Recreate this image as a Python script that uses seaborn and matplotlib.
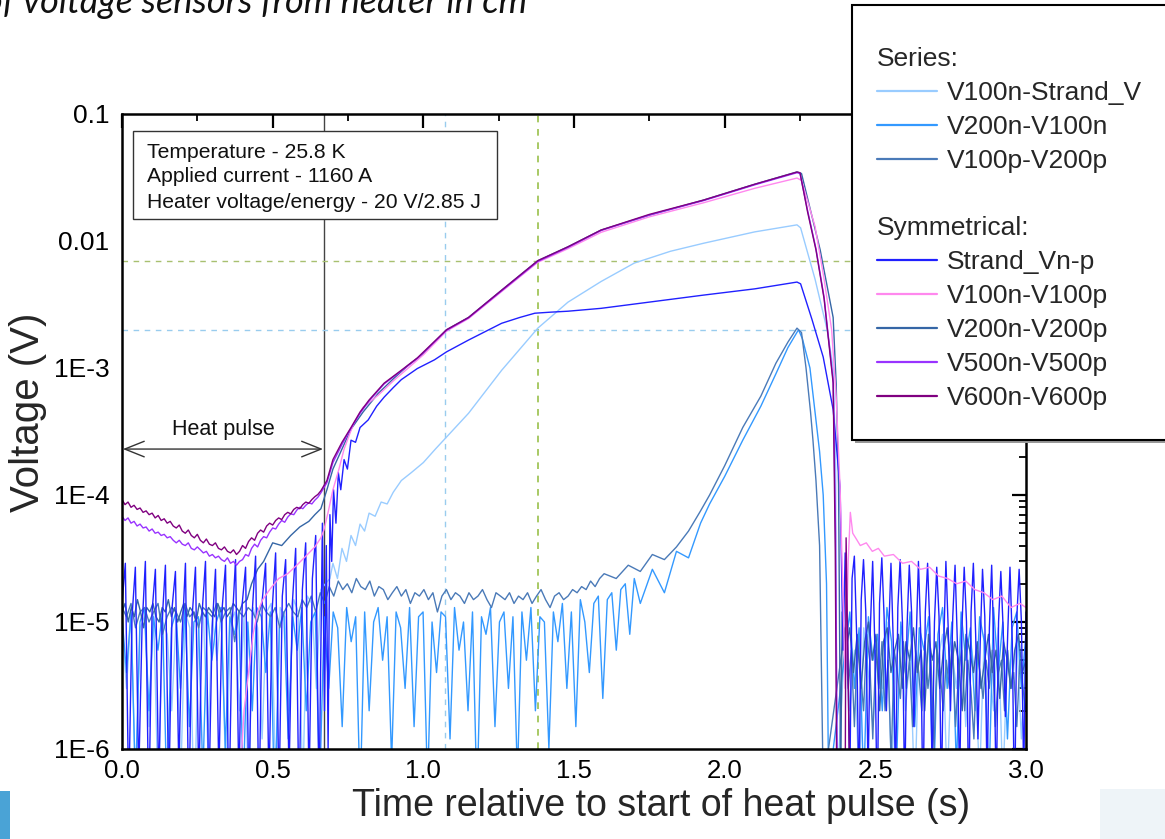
import numpy as np
import matplotlib
matplotlib.use("Agg")
import matplotlib.pyplot as plt
import seaborn as sns
from matplotlib.lines import Line2D
from matplotlib.patches import Rectangle
from matplotlib.ticker import LogLocator, NullFormatter, MultipleLocator

# ---------------- data ----------------
# Noise segments: (t_start, t_end, values in microvolts at evenly spaced samples)
strand_early = (0.0, 0.665, [14, 29, 0.4, 11, 27, 0.6, 9, 30, 0.3, 12, 26, 0.5, 10, 28, 0.4, 13, 25, 0.7, 8, 29,
                             0.3, 11, 27, 0.5, 12, 30, 0.4, 9, 26, 0.6, 13, 28, 0.3, 10, 31, 0.5, 14, 27, 0.4, 12,
                             33, 0.3, 15, 29, 0.5, 13, 35, 0.4, 16, 31, 0.6, 14, 38, 0.3, 18, 42, 0.5, 22, 48, 0.4, 60])
strand_t = [0.672, 0.678, 0.684, 0.690, 0.696, 0.702, 0.710, 0.718, 0.726, 0.737, 0.748, 0.760, 0.775, 0.790,
            0.817, 0.845, 0.870, 0.900, 0.927, 0.980, 1.037, 1.077, 1.150, 1.260, 1.320, 1.370, 1.420, 1.480,
            1.590, 1.750, 1.930, 2.100, 2.240, 2.252, 2.290, 2.327, 2.360, 2.383, 2.393]
strand_v = [2e-6, 4e-5, 1e-6, 7e-5, 3e-5, 1.1e-4, 6e-5, 1.5e-4, 1.1e-4, 1.9e-4, 1.6e-4, 2.7e-4, 2.6e-4, 3.4e-4,
            3.9e-4, 5.0e-4, 5.9e-4, 7.0e-4, 8.1e-4, 9.9e-4, 1.16e-3, 1.34e-3, 1.66e-3, 2.25e-3, 2.5e-3, 2.7e-3,
            2.75e-3, 2.8e-3, 2.95e-3, 3.3e-3, 3.75e-3, 4.2e-3, 4.75e-3, 4.6e-3, 2.4e-3, 1.22e-3, 4.7e-4, 1.15e-4, 6e-6]
strand_late = (2.40, 3.0, [35, 10, 0.5, 22, 33, 8, 0.4, 15, 31, 12, 0.6, 9, 30, 6, 0.3, 14, 32, 11, 2, 8,
                           29, 7, 0.5, 13, 31, 10, 0.4, 9, 28, 12, 1.5, 7, 30, 8, 0.3, 12, 29, 9, 0.6, 10,
                           27, 11, 0.4, 6, 30, 9, 2, 11, 28, 7, 0.5, 9, 27, 10, 0.3, 12, 29, 8, 1.2, 7,
                           26, 11, 0.5, 9, 28, 6, 0.4, 10, 25, 9, 1.8, 8, 27, 7, 0.3, 11, 26, 10, 0.6, 12])

dodger_early = (0.0, 1.70, [11, 4, 12, 0.5, 10, 13, 2, 11, 6, 12, 0.4, 9, 12, 3, 13, 1.5, 10, 11, 0.6, 12,
                            5, 10, 13, 1, 11, 8, 12, 0.5, 10, 2, 13, 11, 4, 12, 0.3, 9, 12, 1.2, 11, 6,
                            13, 2, 10, 12, 0.5, 11, 3, 12, 9, 1.5, 13, 7, 11, 0.4, 12, 2, 10, 13, 5, 11,
                            0.8, 12, 9, 3, 13, 1.5, 11, 12, 0.5, 10, 4, 12, 11, 1.2, 13, 6, 10, 2, 12, 0.4,
                            11, 8, 13, 1.5, 10, 12, 3, 11, 0.6, 12, 5, 13, 2, 11, 10, 1, 12, 7, 14, 3,
                            12, 1.5, 15, 10, 4, 14, 16, 2.5, 15, 17, 6, 18, 20, 8, 22])
dodger_t = [1.72, 1.76, 1.80, 1.84, 1.88, 1.92, 1.95, 2.00, 2.06, 2.12, 2.17, 2.21, 2.245, 2.258, 2.283,
            2.30, 2.315, 2.327, 2.338, 2.345]
dodger_v = [1.4e-5, 2.6e-5, 1.7e-5, 3.6e-5, 3.2e-5, 6e-5, 8.5e-5, 1.4e-4, 2.7e-4, 5.0e-4, 9.0e-4, 1.45e-3,
            2.0e-3, 1.7e-3, 1.0e-3, 4.5e-4, 2.2e-4, 1.0e-4, 2.0e-5, 5e-7]
dodger_late = (2.40, 3.0, [6, 12, 3, 9, 0.5, 11, 5, 8, 2, 13, 7, 0.6, 10, 4, 12, 1.5, 9, 6, 11, 0.4,
                           8, 13, 3, 10, 0.7, 12, 5, 9, 2, 11, 7, 0.5, 13, 4, 10, 1.2, 9, 12, 3, 8])

steel_early = (0.0, 1.60, [13, 11, 14, 9, 12, 13, 10, 12, 14, 8, 11, 13, 12, 10, 14, 11, 12, 9, 13, 12,
                           11, 14, 10, 12, 13, 7, 12, 11, 13, 12, 10, 14, 12, 11, 13, 9, 12, 14, 12, 11,
                           15, 13, 16, 12, 17, 14, 19, 16, 21, 18, 20, 17, 22, 19, 18, 21, 16, 19, 18, 15,
                           17, 19, 16, 18, 14, 17, 16, 18, 15, 17, 12, 16, 18, 15, 17, 16, 14, 17, 15, 16,
                           18, 15, 13, 17, 16, 15, 17, 14, 16, 15, 17, 14, 16, 18, 15, 13, 16, 17, 15, 16,
                           18, 17, 19, 18, 21, 19, 22, 24])
steel_t = [1.64, 1.68, 1.72, 1.76, 1.80, 1.84, 1.88, 1.92, 1.95, 2.00, 2.06, 2.12, 2.17, 2.21, 2.24, 2.255,
           2.27, 2.285, 2.293, 2.303, 2.315, 2.327]
steel_v = [2.2e-5, 2.8e-5, 2.5e-5, 3.4e-5, 3.1e-5, 3.9e-5, 5.2e-5, 7.5e-5, 1.0e-4, 1.7e-4, 3.4e-4, 6.0e-4,
           1.09e-3, 1.6e-3, 2.06e-3, 1.9e-3, 1.0e-3, 4.5e-4, 2.7e-4, 1.3e-4, 4e-5, 5e-7]
steel_late = (2.40, 3.0, [9, 3, 6, 1.5, 7, 4, 2, 8, 5, 1.2, 6, 3, 7, 2, 5, 0.8, 6, 4, 2.5, 7,
                          3, 5, 1.5, 6, 4, 2, 7, 3, 5, 1, 6, 4, 2, 5, 3, 7, 1.5, 4, 6, 2,
                          5, 3, 1.2, 6, 4, 2.5, 5, 3, 6, 1.5, 4, 5, 2, 6, 3, 4, 1.5, 5, 3, 2])

v200_early = (0.0, 0.40, [12, 14, 10, 13, 11, 15, 12, 9, 13, 12, 14, 11, 10, 13, 12, 15, 11, 13, 10, 12,
                          14, 11, 13, 12, 10, 14, 12, 11, 13, 12, 11, 14, 12, 13, 11, 12, 14, 13, 12, 14])
v200_t = [0.415, 0.43, 0.45, 0.47, 0.50, 0.53, 0.56, 0.59, 0.62, 0.64, 0.66, 0.68, 0.70, 0.73, 0.76, 0.80,
          0.85, 0.90, 0.95, 1.00, 1.077, 1.15, 1.26, 1.38, 1.48, 1.59, 1.75, 1.93, 2.10, 2.24, 2.255, 2.317,
          2.36, 2.37, 2.378, 2.385]
v200_v = [1.5e-5, 2.0e-5, 2.6e-5, 3.0e-5, 4.2e-5, 4.0e-5, 4.8e-5, 5.6e-5, 6.2e-5, 7.0e-5, 7.8e-5, 1.1e-4,
          1.6e-4, 2.3e-4, 3.3e-4, 4.5e-4, 6.3e-4, 8.2e-4, 1.05e-3, 1.3e-3, 2.0e-3, 2.5e-3, 4.1e-3, 7.0e-3,
          9.0e-3, 1.22e-2, 1.6e-2, 2.1e-2, 2.8e-2, 3.5e-2, 3.4e-2, 8.5e-3, 2.5e-3, 7.6e-4, 1.2e-4, 5e-7]
v200_late = (2.39, 3.0, [12, 6, 9, 4, 8, 3, 7, 10, 5, 8, 2, 7, 9, 4, 6, 8, 3, 7, 5, 9,
                         4, 6, 2, 8, 5, 7, 3, 6, 9, 4, 7, 5, 2, 8, 6, 4, 7, 3, 5, 8,
                         4, 6, 2.5, 7, 5, 3, 6, 8, 4, 5])

lb_early = (0.0, 0.69, [10, 3, 12, 0.5, 9, 11, 1.5, 12, 0.4, 10, 8, 2, 11, 0.6, 12, 9, 0.3, 10, 12, 1,
                        11, 5, 13, 0.5, 10, 12, 2, 11, 0.4, 13, 9, 1.2, 12, 14, 0.6, 13, 11, 2, 15, 12,
                        0.5, 16, 14, 3, 18, 20, 22])
lb_t = [0.70, 0.715, 0.73, 0.745, 0.76, 0.775, 0.79, 0.805, 0.82, 0.84, 0.86, 0.88, 0.90, 0.927, 0.96,
        1.00, 1.04, 1.077, 1.15, 1.26, 1.38, 1.48, 1.59, 1.70, 1.82, 1.93, 2.10, 2.24, 2.252, 2.30,
        2.34, 2.36, 2.368, 2.373]
lb_v = [2.9e-5, 2.2e-5, 3.8e-5, 3.0e-5, 4.8e-5, 4.0e-5, 5.9e-5, 5.2e-5, 7.2e-5, 6.8e-5, 8.8e-5, 8.5e-5,
        1.05e-4, 1.3e-4, 1.5e-4, 1.8e-4, 2.3e-4, 2.86e-4, 4.4e-4, 9.6e-4, 2.06e-3, 3.3e-3, 4.8e-3, 6.7e-3,
        8.3e-3, 9.6e-3, 1.18e-2, 1.34e-2, 1.27e-2, 5.0e-3, 2.0e-3, 1.0e-3, 2e-4, 5e-7]
lb_late = (2.40, 3.0, [8, 2, 6, 0.5, 9, 4, 1.5, 7, 3, 10, 0.6, 5, 8, 2, 6, 0.4, 9, 3, 7, 1.2,
                       5, 8, 0.5, 6, 3, 9, 1.5, 7, 4, 0.6, 8, 5, 2, 9, 0.5, 6, 3, 8, 1.2, 7])

pink_t = [0.39, 0.405, 0.42, 0.435, 0.45, 0.467, 0.49, 0.52, 0.55, 0.58, 0.61, 0.64, 0.66, 0.67, 0.685,
          0.70, 0.72, 0.737, 0.755, 0.77, 0.80, 0.85, 0.90, 0.95, 1.00, 1.077, 1.15, 1.26, 1.38, 1.48,
          1.59, 1.75, 1.93, 2.10, 2.24, 2.255, 2.30, 2.33, 2.355, 2.37, 2.383, 2.393]
pink_v = [5e-7, 2e-6, 4e-6, 8e-6, 1.2e-5, 1.5e-5, 1.8e-5, 2.2e-5, 2.4e-5, 2.8e-5, 3.3e-5, 3.9e-5, 4.6e-5,
          5.3e-5, 7.5e-5, 1.1e-4, 1.6e-4, 2.3e-4, 3.0e-4, 3.7e-4, 4.9e-4, 6.1e-4, 7.9e-4, 1.0e-3, 1.27e-3,
          1.95e-3, 2.45e-3, 4.0e-3, 6.8e-3, 8.7e-3, 1.17e-2, 1.55e-2, 2.0e-2, 2.6e-2, 3.13e-2, 3.0e-2,
          1.3e-2, 5e-3, 2.0e-3, 5.9e-4, 1.15e-4, 1.5e-5]
pink_late_t = [2.40, 2.41, 2.417, 2.425, 2.437, 2.45, 2.47, 2.49, 2.51, 2.53, 2.56, 2.59, 2.62, 2.65, 2.68,
               2.71, 2.74, 2.77, 2.80, 2.83, 2.86, 2.89, 2.92, 2.95, 2.98, 3.0]
pink_late_uV = [3, 30, 73, 50, 45, 40, 42, 36, 38, 33, 34, 29, 30, 26, 27, 23, 22, 20, 21, 18, 17, 15, 16,
                13, 14, 13]

violet_early = (0.0, 0.66, [68, 63, 66, 60, 62, 57, 59, 55, 56, 52, 54, 50, 51, 48, 49, 46, 47, 44, 42, 44,
                            41, 40, 42, 38, 37, 39, 37, 35, 36, 33, 34, 32, 33, 31, 30, 32, 29, 30, 28, 30,
                            31, 34, 33, 38, 41, 39, 44, 47, 46, 51, 55, 54, 59, 63, 61, 67, 71, 70, 76, 80,
                            78, 83, 87, 85, 91, 96, 104])
violet_t = [0.68, 0.70, 0.73, 0.76, 0.79, 0.82, 0.87, 0.927, 0.98, 1.077, 1.15, 1.26, 1.38, 1.48, 1.59,
            1.75, 1.93, 2.10, 2.24, 2.25, 2.275, 2.303, 2.33, 2.36, 2.368, 2.374]
violet_v = [1.25e-4, 1.8e-4, 2.5e-4, 3.35e-4, 4.4e-4, 5.5e-4, 7.5e-4, 9.5e-4, 1.19e-3, 1.98e-3, 2.48e-3,
            4.05e-3, 6.9e-3, 8.9e-3, 1.21e-2, 1.6e-2, 2.08e-2, 2.77e-2, 3.45e-2, 3.4e-2, 1.75e-2, 8.7e-3,
            3.6e-3, 8.0e-4, 5e-5, 5e-7]

purple_early = (0.0, 0.66, [92, 84, 88, 80, 83, 77, 79, 73, 75, 70, 72, 66, 69, 63, 65, 60, 62, 57, 55, 58,
                            52, 50, 53, 48, 46, 49, 44, 42, 45, 41, 40, 42, 38, 37, 39, 36, 35, 37, 34, 36,
                            40, 38, 43, 46, 44, 50, 53, 51, 57, 60, 58, 63, 66, 64, 70, 73, 71, 77, 80, 78,
                            84, 88, 86, 92, 97, 101, 108])
purple_t = [0.68, 0.70, 0.73, 0.76, 0.79, 0.82, 0.87, 0.927, 0.98, 1.077, 1.15, 1.26, 1.38, 1.48, 1.59,
            1.75, 1.93, 2.10, 2.24, 2.25, 2.275, 2.303, 2.33, 2.36, 2.367, 2.372, 2.400, 2.403, 2.408, 2.415]
purple_v = [1.3e-4, 1.9e-4, 2.6e-4, 3.4e-4, 4.5e-4, 5.6e-4, 7.6e-4, 9.6e-4, 1.2e-3, 2.0e-3, 2.5e-3,
            4.1e-3, 7.0e-3, 9.0e-3, 1.22e-2, 1.62e-2, 2.1e-2, 2.8e-2, 3.49e-2, 3.45e-2, 1.7e-2, 8.5e-3,
            3.5e-3, 7.6e-4, 3.7e-5, 5e-7, 5e-7, 4.6e-5, 7e-6, 5e-7]

series_names = ["V100n-Strand_V", "V200n-V100n", "V100p-V200p"]
symm_names = ["Strand_Vn-p", "V100n-V100p", "V200n-V200p", "V500n-V500p", "V600n-V600p"]
colors = {"V100n-Strand_V": "#99ccff", "V200n-V100n": "#3399ff", "V100p-V200p": "#4a7ab8",
          "Strand_Vn-p": "#2020ff", "V100n-V100p": "#ff88ee", "V200n-V200p": "#3566a6",
          "V500n-V500p": "#9933ff", "V600n-V600p": "#800080"}
info_lines = ["Temperature - 25.8 K", "Applied current - 1160 A", "Heater voltage/energy - 20 V/2.85 J"]
x_ticks = [0.0, 0.5, 1.0, 1.5, 2.0, 2.5, 3.0]
x_ticklabels = ["0.0", "0.5", "1.0", "1.5", "2.0", "2.5", "3.0"]
y_ticks = [1e-6, 1e-5, 1e-4, 1e-3, 1e-2, 1e-1]
y_ticklabels = ["1E-6", "1E-5", "1E-4", "1E-3", "0.01", "0.1"]
heat_pulse_end = 0.67
guide_x = [1.073, 1.38]
guide_y = [0.002, 0.007]


def noise(seg):
    t0, t1, vals = seg
    return list(np.linspace(t0, t1, len(vals))), [v * 1e-6 for v in vals]


def build(*parts):
    t, v = [], []
    for pt, pv in parts:
        t += list(pt)
        v += list(pv)
    return np.array(t), np.array(v)


curves = {
    "V100n-Strand_V": build(noise(lb_early), (lb_t, lb_v), noise(lb_late)),
    "V200n-V100n": build(noise(dodger_early), (dodger_t, dodger_v), noise(dodger_late)),
    "V100p-V200p": build(noise(steel_early), (steel_t, steel_v), noise(steel_late)),
    "V200n-V200p": build(noise(v200_early), (v200_t, v200_v), noise(v200_late)),
    "Strand_Vn-p": build(noise(strand_early), (strand_t, strand_v), noise(strand_late)),
    "V100n-V100p": build((pink_t, pink_v), (pink_late_t, [v * 1e-6 for v in pink_late_uV])),
    "V500n-V500p": build(noise(violet_early), (violet_t, violet_v)),
    "V600n-V600p": build(noise(purple_early), (purple_t, purple_v)),
}
draw_order = ["V100n-Strand_V", "V200n-V100n", "V100p-V200p", "V200n-V200p", "Strand_Vn-p",
              "V100n-V100p", "V500n-V500p", "V600n-V600p"]

# ---------------- figure ----------------
sns.set_theme(style="white")
plt.rcParams["font.family"] = ["Liberation Sans", "DejaVu Sans"]

W, H = 1165, 839
fig = plt.figure(figsize=(W / 100, H / 100), dpi=100)
fig.patch.set_facecolor("white")
ax = fig.add_axes([122 / W, 1 - 749 / H, (1026 - 122) / W, (749 - 114) / H])
ax.set_yscale("log")

for name in draw_order:
    t, v = curves[name]
    sns.lineplot(x=t, y=v, ax=ax, color=colors[name], lw=1.0, estimator=None, sort=False,
                 legend=False)

ax.set_xlim(0, 3.0)
ax.set_ylim(1e-6, 0.1)

# guide lines
ax.axvline(heat_pulse_end, color="#444444", lw=1.0, zorder=1)
ax.axvline(guide_x[0], color="#99ccee", lw=1.0, ls=(0, (4, 4)), zorder=1)
ax.axvline(guide_x[1], color="#99c04a", lw=1.2, ls=(0, (4, 4)), zorder=1)
ax.axhline(guide_y[1], color="#a8c070", lw=1.0, ls=(0, (4, 4)), zorder=1)
ax.axhline(guide_y[0], color="#99ccee", lw=1.0, ls=(0, (4, 4)), zorder=1)

# ticks
ax.set_xticks(x_ticks)
ax.set_xticklabels(x_ticklabels)
ax.xaxis.set_minor_locator(MultipleLocator(0.25))
ax.set_yticks(y_ticks)
ax.set_yticklabels(y_ticklabels)
ax.yaxis.set_minor_locator(LogLocator(base=10, subs=range(2, 10), numticks=30))
ax.yaxis.set_minor_formatter(NullFormatter())
ax.tick_params(which="both", direction="in", top=True, right=True, colors="black")
ax.tick_params(axis="y", labelsize=19)
ax.tick_params(axis="x", labelsize=18.5)
ax.tick_params(which="major", length=10, width=1.6, pad=7)
ax.tick_params(which="minor", length=5, width=1.3)
ax.tick_params(axis="y", which="major", pad=9)
for s in ax.spines.values():
    s.set_linewidth(1.8)
    s.set_color("black")
ax.set_xlabel("")
ax.set_ylabel("")

fig.text(28 / W, 1 - 412 / H, "Voltage (V)", rotation=90, ha="center", va="center", fontsize=29)
fig.text(661 / W, 1 - 806 / H, "Time relative to start of heat pulse (s)", ha="center", va="center",
         fontsize=27)

# heat pulse arrow
ax.annotate("", xy=(0.003, 2.3e-4), xytext=(heat_pulse_end - 0.003, 2.3e-4),
            arrowprops=dict(arrowstyle="<->,head_length=0.5,head_width=0.2", color="#333333",
                            lw=1.0, mutation_scale=28, shrinkA=0, shrinkB=0))
ax.text(0.335, 3.25e-4, "Heat pulse", ha="center", va="center", fontsize=15.5, color="#111111")

# info box
ax.add_patch(Rectangle((11 / 904, 1 - 105 / 635), 364 / 904, 88 / 635, transform=ax.transAxes,
                       facecolor="white", edgecolor="#333333", lw=1.0, zorder=10))
for i, line in enumerate(info_lines):
    ax.text(25 / 904, 1 - (38 + 25 * i) / 635, line, transform=ax.transAxes, ha="left", va="center",
            fontsize=15.2, color="#111111", zorder=11)

# legend frame (extends past the right edge)
fig.patches.append(Rectangle((855 / W, 1 - 443 / H), 330 / W, 436 / H, transform=fig.transFigure,
                             facecolor="#999999", edgecolor="none", zorder=4))
fig.patches.append(Rectangle((852 / W, 1 - 440 / H), 330 / W, 435 / H, transform=fig.transFigure,
                             facecolor="white", edgecolor="black", lw=1.5, zorder=4.5))

fs = 19
h1 = [Line2D([], [], color=colors[n], lw=1.6) for n in series_names]
h2 = [Line2D([], [], color=colors[n], lw=1.6) for n in symm_names]
common = dict(loc="upper left", frameon=False, fontsize=fs, title_fontsize=fs, alignment="left",
              handlelength=2.27, handletextpad=0.38, labelspacing=0.38, borderpad=0, borderaxespad=0)
leg1 = fig.legend(h1, series_names, title="Series:", bbox_to_anchor=(877 / W, 1 - 47 / H), **common)
leg2 = fig.legend(h2, symm_names, title="Symmetrical:", bbox_to_anchor=(877 / W, 1 - 216 / H), **common)
for lg in (leg1, leg2):
    lg.set_zorder(6)

# cut-off slide title
fig.text(-16 / W, 1 - 13 / H, "of voltage sensors from heater in cm", fontsize=26, style="italic",
         family=["Lato", "DejaVu Sans"], ha="left", va="baseline", color="#111111")

# slide fragments in the bottom corners
fig.patches.append(Rectangle((0, 0), 10 / W, 48 / H, transform=fig.transFigure,
                             facecolor="#4aa3d6", edgecolor="none", zorder=1))
fig.patches.append(Rectangle((1100 / W, 0), 65 / W, 50 / H, transform=fig.transFigure,
                             facecolor="#eef4f8", edgecolor="none", zorder=1))

fig.savefig("out.png", dpi=100)
